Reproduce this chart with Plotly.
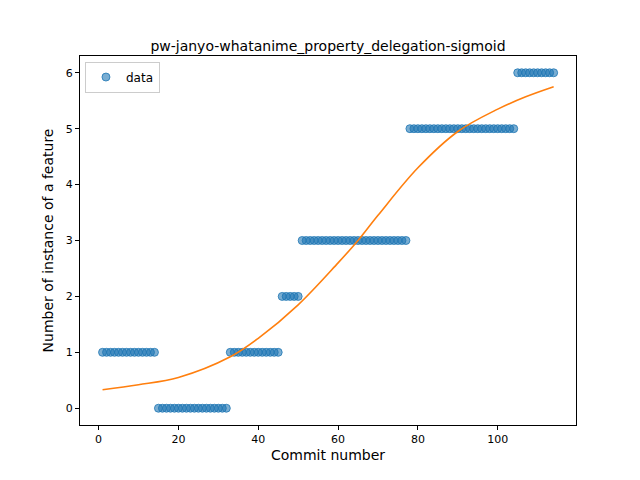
import plotly.graph_objects as go

# step data: (first commit, last commit, value)
segments = [(1, 14, 1), (15, 32, 0), (33, 45, 1), (46, 50, 2),
            (51, 77, 3), (78, 104, 5), (105, 114, 6)]
commits = []
values = []
for a, b, v in segments:
    for c in range(a, b + 1):
        commits.append(c)
        values.append(v)

# fitted sigmoid, sampled by eye
fit_x = [1, 10, 20, 33, 40, 50, 60, 65, 70, 80, 90, 100, 107, 114]
fit_y = [0.33, 0.42, 0.55, 0.92, 1.25, 1.85, 2.6, 3.0, 3.45, 4.3, 4.95, 5.35, 5.57, 5.75]

fig = go.Figure()
fig.add_trace(go.Scatter(x=commits, y=values, mode="markers", name="data",
                         marker=dict(color="rgba(31,119,180,0.6)", size=8,
                                     line=dict(width=1, color="rgba(31,119,180,0.8)"))))
fig.add_trace(go.Scatter(x=fit_x, y=fit_y, mode="lines", line=dict(color="#ff7f0e", width=1.6, shape="spline"),
                         showlegend=False))

axis = dict(showgrid=False, zeroline=False, showline=True, mirror=True, linecolor="black",
            ticks="outside", ticklen=4, tickcolor="black", tickfont=dict(size=11, color="black"))
fig.update_layout(
    width=640, height=480, plot_bgcolor="white", paper_bgcolor="white",
    font=dict(family="DejaVu Sans", color="black"),
    margin=dict(l=72, r=72, t=48, b=63),
    title=dict(text="pw-janyo-whatanime_property_delegation-sigmoid", x=0.5, xanchor="center",
               y=0.93, font=dict(size=14)),
    xaxis=dict(axis, range=[-4.65, 119.6], tickvals=[0, 20, 40, 60, 80, 100],
               title=dict(text="Commit number", font=dict(size=14), standoff=4)),
    yaxis=dict(axis, range=[-0.3, 6.3], tickvals=[0, 1, 2, 3, 4, 5, 6],
               title=dict(text="Number of instance of a feature", font=dict(size=14), standoff=8)),
    legend=dict(x=0.01, y=0.985, xanchor="left", yanchor="top", bordercolor="#cccccc",
                borderwidth=1, font=dict(size=12), tracegroupgap=0),
)
fig.write_html("out.html")
